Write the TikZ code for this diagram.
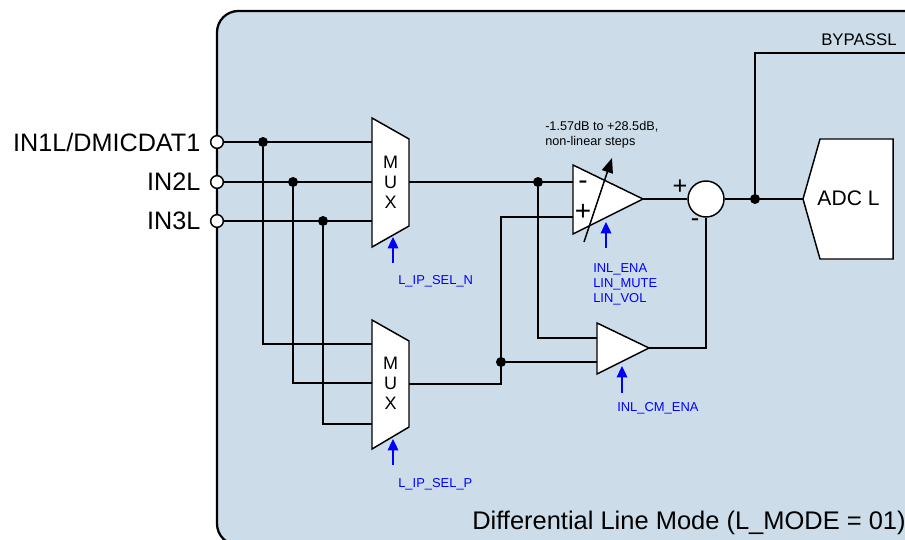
\documentclass[tikz,border=0pt]{standalone}
\usepackage{fontspec}
\setmainfont{Liberation Sans}
\usetikzlibrary{arrows.meta, positioning}

\definecolor{panelblue}{RGB}{204,221,233}
\definecolor{ctrlblue}{RGB}{0,0,255}

\tikzset{
  wire/.style={line width=1.1pt},
  block/.style={draw, fill=white, line width=1.1pt, line join=miter},
  pin/.style={circle, draw, fill=white, line width=1.1pt, minimum size=9.5pt, inner sep=0pt},
  dot/.style={circle, fill=black, minimum size=7.5pt, inner sep=0pt},
  sumnode/.style={circle, draw, fill=white, line width=1.1pt, minimum size=27pt, inner sep=0pt},
  ctrl/.style={draw=ctrlblue, line width=0.9pt, -{Triangle[length=8.5pt,width=8pt]}},
  ctrltext/.style={text=ctrlblue, font=\fontsize{9.7}{11.2}\selectfont, inner sep=0pt, align=left},
  pintext/.style={font=\fontsize{18.9}{20}\selectfont, inner sep=0pt},
  muxtext/.style={font=\fontsize{13.5}{15}\selectfont, align=center, inner sep=0pt},
  signtext/.style={font=\fontsize{21}{21}\selectfont, inner sep=0pt},
}

\begin{document}
\begin{tikzpicture}[x=0.75pt, y=-0.75pt, >={Triangle[length=11pt,width=8.5pt]}]
\useasboundingbox (0,0) rectangle (905,539);

% panel
\draw[line width=1.7pt, fill=panelblue, rounded corners=16pt] (940,11) -- (217,11) -- (217,545) -- (940,545);

% input pins
\node[pin] (in1) at (217,142) {};
\node[pin] (in2) at (217,182) {};
\node[pin] (in3) at (217,221) {};
\node[pintext, left=7pt of in1] (in1lbl) {IN1L/DMICDAT1};
\node[pintext, left=7pt of in2] (in2lbl) {IN2L};
\node[pintext, left=7pt of in3] (in3lbl) {IN3L};

% mux ports
\coordinate (muxAin1) at (372,142);
\coordinate (muxAin2) at (372,182);
\coordinate (muxAin3) at (372,221);
\coordinate (muxAout) at (409,182);
\coordinate (muxBin1) at (372,344);
\coordinate (muxBin2) at (372,383);
\coordinate (muxBin3) at (372,424);
\coordinate (muxBout) at (409,384);

% amp ports
\coordinate (pganeg) at (573,182);
\coordinate (pgapos) at (573,217);
\coordinate (pgaout) at (643,199);
\coordinate (cmina) at (597,338);
\coordinate (cminb) at (597,362);
\coordinate (cmout) at (649,348);
\coordinate (adcin) at (803,199);
\coordinate (fbturn) at (501,217);
\coordinate (bypass) at (940,53);

% junctions
\node[dot] (jA) at (263,142) {};
\node[dot] (jB) at (293,182) {};
\node[dot] (jC) at (323,221) {};
\node[dot] (jD) at (538,182) {};
\node[dot] (jE) at (501,362) {};
\node[dot] (jF) at (755,199) {};

% input wiring
\draw[wire] (in1) -- (muxAin1);
\draw[wire] (in2) -- (muxAin2);
\draw[wire] (in3) -- (muxAin3);
\draw[wire] (jA) |- (muxBin1);
\draw[wire] (jB) |- (muxBin2);
\draw[wire] (jC) |- (muxBin3);

% muxes
\draw[block] (372,118) -- (409,139) -- (409,226) -- (372,247) -- cycle;
\node[muxtext] (muxA) at (390.5,182) {M\\U\\X};
\draw[block] (372,320) -- (409,341) -- (409,427) -- (372,449) -- cycle;
\node[muxtext] (muxB) at (390.5,383) {M\\U\\X};

% signal path
\draw[wire] (muxAout) -- (pganeg);
\draw[wire] (jD) |- (cmina);
\draw[wire] (muxBout) -| (fbturn) -- (pgapos);
\draw[wire] (jE) -- (cminb);

% amplifiers
\draw[block] (573,165) -- (pgaout) -- (573,234) -- cycle;
\draw[block] (597,323) -- (cmout) -- (597,374) -- cycle;
\node[signtext] (pganegs) at (583,185) {-};
\node[signtext] (pgaposs) at (583,212) {+};
\coordinate (gainlo) at (584,242);
\coordinate (gainhi) at (612,158);
\draw[wire, ->] (gainlo) -- (gainhi);
\node[anchor=north west, inner sep=0pt, align=left, font=\fontsize{9.5}{10.8}\selectfont] (gaintxt) at (545,121.5) {-1.57dB to +28.5dB,\\non-linear steps};

% mixer and adc
\node[sumnode] (sum) at (706,199) {};
\draw[wire] (pgaout) -- (sum);
\draw[wire] (cmout) -| (sum);
\node[font=\fontsize{19}{19}\selectfont, inner sep=0pt] (sumpos) at (680,187) {+};
\node[font=\fontsize{19}{19}\selectfont, inner sep=0pt] (sumneg) at (695,223) {-};
\draw[wire] (sum) -- (adcin);
\draw[wire] (jF) |- (bypass);
\node[anchor=base west, inner sep=0pt, font=\fontsize{12.6}{14}\selectfont] (bypasslbl) at (821,45) {BYPASSL};
\draw[block] (adcin) -- (820,139) -- (893,139) -- (893,259) -- (820,259) -- cycle;
\node[font=\fontsize{15.8}{18}\selectfont, inner sep=0pt] (adc) at (848.5,198.5) {ADC L};

% control signals
\coordinate (selN) at (393,263);
\coordinate (selP) at (393,465);
\coordinate (pgactl) at (606,248);
\coordinate (cmctl) at (622,393);
\draw[ctrl] (selN) -- ++(0,-26);
\draw[ctrl] (selP) -- ++(0,-26);
\draw[ctrl] (pgactl) -- ++(0,-26);
\draw[ctrl] (cmctl) -- ++(0,-27);
\node[ctrltext, anchor=base west] (selNlbl) at (398,284) {L\_IP\_SEL\_N};
\node[ctrltext, anchor=base west] (selPlbl) at (398,487) {L\_IP\_SEL\_P};
\node[ctrltext, anchor=north west] (pgalbl) at (593,263) {INL\_ENA\\LIN\_MUTE\\LIN\_VOL};
\node[ctrltext, anchor=base west] (cmlbl) at (617,411) {INL\_CM\_ENA};

% mode
\node[anchor=base west, inner sep=0pt, font=\fontsize{19.1}{20}\selectfont] (mode) at (472,529) {Differential Line Mode (L\_MODE = 01)};
\end{tikzpicture}
\end{document}
